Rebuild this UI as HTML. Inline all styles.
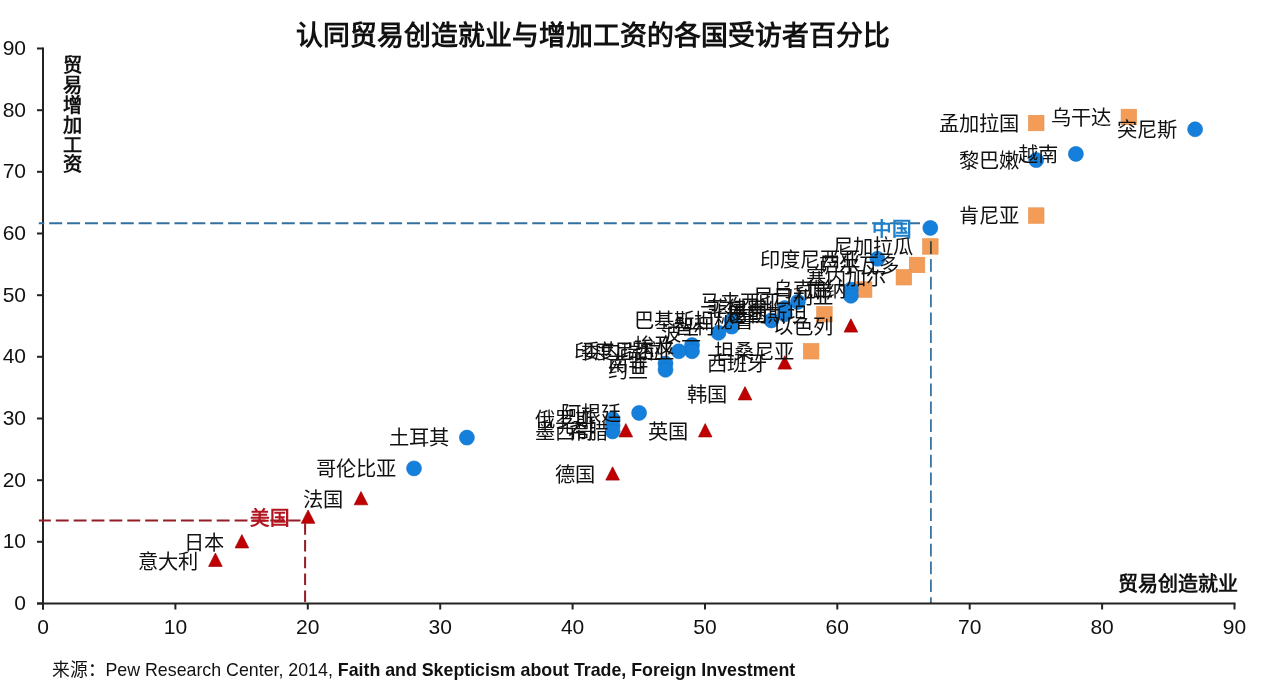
<!DOCTYPE html><html lang="zh-CN"><head><meta charset="utf-8"><style>
html,body{margin:0;padding:0;background:#fff;width:1267px;height:692px;overflow:hidden}
svg{display:block;font-family:"Liberation Sans",sans-serif;will-change:transform}
.l{font-size:20.3px;fill:#111}
.t{font-size:21px;fill:#111}
</style></head><body>
<svg width="1267" height="692" viewBox="0 0 1267 692">
<rect width="1267" height="692" fill="#fff"/>
<text x="592.6" y="45" text-anchor="middle" style="font-size:26.9px;font-weight:bold" fill="#111">认同贸易创造就业与增加工资的各国受访者百分比</text>
<g stroke="#222" stroke-width="2" fill="none">
<line x1="43.0" y1="47.49700000000007" x2="43.0" y2="609.5"/>
<line x1="37.0" y1="603.5" x2="1235.51" y2="603.5"/>
<line x1="37.0" y1="603.5" x2="43.0" y2="603.5"/>
<line x1="43.0" y1="603.5" x2="43.0" y2="609.5"/>
<line x1="37.0" y1="541.8" x2="43.0" y2="541.8"/>
<line x1="175.4" y1="603.5" x2="175.4" y2="609.5"/>
<line x1="37.0" y1="480.2" x2="43.0" y2="480.2"/>
<line x1="307.8" y1="603.5" x2="307.8" y2="609.5"/>
<line x1="37.0" y1="418.5" x2="43.0" y2="418.5"/>
<line x1="440.2" y1="603.5" x2="440.2" y2="609.5"/>
<line x1="37.0" y1="356.8" x2="43.0" y2="356.8"/>
<line x1="572.6" y1="603.5" x2="572.6" y2="609.5"/>
<line x1="37.0" y1="295.2" x2="43.0" y2="295.2"/>
<line x1="705.0" y1="603.5" x2="705.0" y2="609.5"/>
<line x1="37.0" y1="233.5" x2="43.0" y2="233.5"/>
<line x1="837.3" y1="603.5" x2="837.3" y2="609.5"/>
<line x1="37.0" y1="171.8" x2="43.0" y2="171.8"/>
<line x1="969.7" y1="603.5" x2="969.7" y2="609.5"/>
<line x1="37.0" y1="110.2" x2="43.0" y2="110.2"/>
<line x1="1102.1" y1="603.5" x2="1102.1" y2="609.5"/>
<line x1="37.0" y1="48.5" x2="43.0" y2="48.5"/>
<line x1="1234.5" y1="603.5" x2="1234.5" y2="609.5"/>
</g>
<text class="t" x="26" y="609.8" text-anchor="end">0</text>
<text class="t" x="43.0" y="634" text-anchor="middle">0</text>
<text class="t" x="26" y="548.1" text-anchor="end">10</text>
<text class="t" x="175.4" y="634" text-anchor="middle">10</text>
<text class="t" x="26" y="486.5" text-anchor="end">20</text>
<text class="t" x="307.8" y="634" text-anchor="middle">20</text>
<text class="t" x="26" y="424.8" text-anchor="end">30</text>
<text class="t" x="440.2" y="634" text-anchor="middle">30</text>
<text class="t" x="26" y="363.1" text-anchor="end">40</text>
<text class="t" x="572.6" y="634" text-anchor="middle">40</text>
<text class="t" x="26" y="301.5" text-anchor="end">50</text>
<text class="t" x="705.0" y="634" text-anchor="middle">50</text>
<text class="t" x="26" y="239.8" text-anchor="end">60</text>
<text class="t" x="837.3" y="634" text-anchor="middle">60</text>
<text class="t" x="26" y="178.1" text-anchor="end">70</text>
<text class="t" x="969.7" y="634" text-anchor="middle">70</text>
<text class="t" x="26" y="116.5" text-anchor="end">80</text>
<text class="t" x="1102.1" y="634" text-anchor="middle">80</text>
<text class="t" x="26" y="54.8" text-anchor="end">90</text>
<text class="t" x="1234.5" y="634" text-anchor="middle">90</text>
<text x="1238" y="591" text-anchor="end" style="font-size:20px;font-weight:bold" fill="#111">贸易创造就业</text>
<text x="72.3" y="72.3" text-anchor="middle" style="font-size:19.2px;font-weight:bold" fill="#111">贸</text>
<text x="72.3" y="92.1" text-anchor="middle" style="font-size:19.2px;font-weight:bold" fill="#111">易</text>
<text x="72.3" y="111.9" text-anchor="middle" style="font-size:19.2px;font-weight:bold" fill="#111">增</text>
<text x="72.3" y="131.7" text-anchor="middle" style="font-size:19.2px;font-weight:bold" fill="#111">加</text>
<text x="72.3" y="151.5" text-anchor="middle" style="font-size:19.2px;font-weight:bold" fill="#111">工</text>
<text x="72.3" y="171.3" text-anchor="middle" style="font-size:19.2px;font-weight:bold" fill="#111">资</text>
<rect x="1028.5" y="115.3" width="15.5" height="15.5" fill="#F39C57" stroke="#E8904A" stroke-width="0.6"/>
<rect x="1121.1" y="109.2" width="15.5" height="15.5" fill="#F39C57" stroke="#E8904A" stroke-width="0.6"/>
<rect x="1028.5" y="207.8" width="15.5" height="15.5" fill="#F39C57" stroke="#E8904A" stroke-width="0.6"/>
<rect x="922.6" y="238.7" width="15.5" height="15.5" fill="#F39C57" stroke="#E8904A" stroke-width="0.6"/>
<rect x="909.3" y="257.2" width="15.5" height="15.5" fill="#F39C57" stroke="#E8904A" stroke-width="0.6"/>
<rect x="896.1" y="269.5" width="15.5" height="15.5" fill="#F39C57" stroke="#E8904A" stroke-width="0.6"/>
<rect x="856.4" y="281.8" width="15.5" height="15.5" fill="#F39C57" stroke="#E8904A" stroke-width="0.6"/>
<rect x="816.7" y="306.5" width="15.5" height="15.5" fill="#F39C57" stroke="#E8904A" stroke-width="0.6"/>
<rect x="803.4" y="343.5" width="15.5" height="15.5" fill="#F39C57" stroke="#E8904A" stroke-width="0.6"/>
<circle cx="1195.1" cy="129.3" r="7.5" fill="#1480DC" stroke="#1270C8" stroke-width="0.6"/>
<circle cx="1075.9" cy="153.9" r="7.5" fill="#1480DC" stroke="#1270C8" stroke-width="0.6"/>
<circle cx="1036.2" cy="160.1" r="7.5" fill="#1480DC" stroke="#1270C8" stroke-width="0.6"/>
<circle cx="930.3" cy="227.9" r="7.5" fill="#1480DC" stroke="#1270C8" stroke-width="0.6"/>
<circle cx="877.4" cy="258.8" r="7.5" fill="#1480DC" stroke="#1270C8" stroke-width="0.6"/>
<circle cx="850.9" cy="289.6" r="7.5" fill="#1480DC" stroke="#1270C8" stroke-width="0.6"/>
<circle cx="850.9" cy="295.8" r="7.5" fill="#1480DC" stroke="#1270C8" stroke-width="0.6"/>
<circle cx="797.9" cy="301.9" r="7.5" fill="#1480DC" stroke="#1270C8" stroke-width="0.6"/>
<circle cx="784.7" cy="308.1" r="7.5" fill="#1480DC" stroke="#1270C8" stroke-width="0.6"/>
<circle cx="784.7" cy="314.3" r="7.5" fill="#1480DC" stroke="#1270C8" stroke-width="0.6"/>
<circle cx="771.4" cy="320.4" r="7.5" fill="#1480DC" stroke="#1270C8" stroke-width="0.6"/>
<circle cx="731.7" cy="320.4" r="7.5" fill="#1480DC" stroke="#1270C8" stroke-width="0.6"/>
<circle cx="731.7" cy="326.6" r="7.5" fill="#1480DC" stroke="#1270C8" stroke-width="0.6"/>
<circle cx="718.5" cy="332.8" r="7.5" fill="#1480DC" stroke="#1270C8" stroke-width="0.6"/>
<circle cx="692.0" cy="345.1" r="7.5" fill="#1480DC" stroke="#1270C8" stroke-width="0.6"/>
<circle cx="692.0" cy="351.3" r="7.5" fill="#1480DC" stroke="#1270C8" stroke-width="0.6"/>
<circle cx="678.8" cy="351.3" r="7.5" fill="#1480DC" stroke="#1270C8" stroke-width="0.6"/>
<circle cx="665.5" cy="363.6" r="7.5" fill="#1480DC" stroke="#1270C8" stroke-width="0.6"/>
<circle cx="665.5" cy="369.8" r="7.5" fill="#1480DC" stroke="#1270C8" stroke-width="0.6"/>
<circle cx="639.1" cy="412.9" r="7.5" fill="#1480DC" stroke="#1270C8" stroke-width="0.6"/>
<circle cx="612.6" cy="419.1" r="7.5" fill="#1480DC" stroke="#1270C8" stroke-width="0.6"/>
<circle cx="612.6" cy="425.3" r="7.5" fill="#1480DC" stroke="#1270C8" stroke-width="0.6"/>
<circle cx="612.6" cy="431.4" r="7.5" fill="#1480DC" stroke="#1270C8" stroke-width="0.6"/>
<circle cx="466.9" cy="437.6" r="7.5" fill="#1480DC" stroke="#1270C8" stroke-width="0.6"/>
<circle cx="414.0" cy="468.4" r="7.5" fill="#1480DC" stroke="#1270C8" stroke-width="0.6"/>
<polygon points="215.4,553.1 222.2,566.4 208.6,566.4" fill="#C00000" stroke="#A00000" stroke-width="0.7"/>
<polygon points="241.9,534.6 248.7,547.9 235.1,547.9" fill="#C00000" stroke="#A00000" stroke-width="0.7"/>
<polygon points="308.1,510.0 314.9,523.3 301.3,523.3" fill="#C00000" stroke="#A00000" stroke-width="0.7"/>
<polygon points="361.0,491.5 367.8,504.8 354.2,504.8" fill="#C00000" stroke="#A00000" stroke-width="0.7"/>
<polygon points="612.6,466.8 619.4,480.1 605.8,480.1" fill="#C00000" stroke="#A00000" stroke-width="0.7"/>
<polygon points="625.8,423.6 632.6,436.9 619.0,436.9" fill="#C00000" stroke="#A00000" stroke-width="0.7"/>
<polygon points="705.2,423.6 712.0,436.9 698.5,436.9" fill="#C00000" stroke="#A00000" stroke-width="0.7"/>
<polygon points="745.0,386.6 751.8,399.9 738.2,399.9" fill="#C00000" stroke="#A00000" stroke-width="0.7"/>
<polygon points="784.7,355.8 791.5,369.1 777.9,369.1" fill="#C00000" stroke="#A00000" stroke-width="0.7"/>
<polygon points="850.9,318.8 857.7,332.1 844.1,332.1" fill="#C00000" stroke="#A00000" stroke-width="0.7"/>
<text class="l" x="197.7" y="568.7" text-anchor="end" >意大利</text>
<text class="l" x="224.2" y="550.2" text-anchor="end" >日本</text>
<text class="l" x="343.3" y="507.1" text-anchor="end" >法国</text>
<text class="l" x="594.9" y="482.4" text-anchor="end" >德国</text>
<text class="l" x="608.1" y="439.2" text-anchor="end" >希腊</text>
<text class="l" x="687.6" y="439.2" text-anchor="end" >英国</text>
<text class="l" x="727.3" y="402.2" text-anchor="end" >韩国</text>
<text class="l" x="767.0" y="371.4" text-anchor="end" >西班牙</text>
<text class="l" x="833.2" y="334.4" text-anchor="end" >以色列</text>
<text class="l" x="1018.5" y="130.9" text-anchor="end" >孟加拉国</text>
<text class="l" x="1111.2" y="124.7" text-anchor="end" >乌干达</text>
<text class="l" x="1018.5" y="223.4" text-anchor="end" >肯尼亚</text>
<text class="l" x="912.6" y="254.2" text-anchor="end" >尼加拉瓜</text>
<text class="l" x="899.4" y="272.7" text-anchor="end" >萨尔瓦多</text>
<text class="l" x="886.1" y="285.1" text-anchor="end" >塞内加尔</text>
<text class="l" x="846.4" y="297.4" text-anchor="end" >加纳</text>
<text class="l" x="806.7" y="322.1" text-anchor="end" >巴勒斯坦</text>
<text class="l" x="793.5" y="359.1" text-anchor="end" >坦桑尼亚</text>
<text class="l" x="1177.4" y="137.1" text-anchor="end" >突尼斯</text>
<text class="l" x="1058.2" y="161.7" text-anchor="end" >越南</text>
<text class="l" x="1018.5" y="167.9" text-anchor="end" >黎巴嫩</text>
<text class="l" x="859.7" y="266.6" text-anchor="end" >印度尼西亚</text>
<text class="l" x="833.2" y="297.4" text-anchor="end" >乌克兰</text>
<text class="l" x="833.2" y="303.6" text-anchor="end" >尼日利亚</text>
<text class="l" x="780.2" y="309.7" text-anchor="end" >马来西亚</text>
<text class="l" x="767.0" y="315.9" text-anchor="end" >菲律宾</text>
<text class="l" x="767.0" y="322.1" text-anchor="end" >泰国</text>
<text class="l" x="753.7" y="328.2" text-anchor="end" >秘鲁</text>
<text class="l" x="714.0" y="328.2" text-anchor="end" >巴基斯坦</text>
<text class="l" x="714.0" y="334.4" text-anchor="end" >智利</text>
<text class="l" x="700.8" y="340.6" text-anchor="end" >波兰</text>
<text class="l" x="674.3" y="352.9" text-anchor="end" >埃及</text>
<text class="l" x="674.3" y="359.1" text-anchor="end" >印度尼西亚</text>
<text class="l" x="661.1" y="359.1" text-anchor="end" >委内瑞拉</text>
<text class="l" x="647.8" y="371.4" text-anchor="end" >南非</text>
<text class="l" x="647.8" y="377.6" text-anchor="end" >约旦</text>
<text class="l" x="621.4" y="420.7" text-anchor="end" >阿根廷</text>
<text class="l" x="594.9" y="426.9" text-anchor="end" >俄罗斯</text>
<text class="l" x="594.9" y="439.2" text-anchor="end" >墨西哥</text>
<text class="l" x="449.2" y="445.4" text-anchor="end" >土耳其</text>
<text class="l" x="396.3" y="476.2" text-anchor="end" >哥伦比亚</text>
<g fill="none" stroke-width="2">
<line x1="38.9" y1="520.6" x2="300.5" y2="520.6" stroke="#931C26" stroke-dasharray="12.9 4.98" stroke-dashoffset="1"/>
<line x1="305.1" y1="523.2" x2="305.1" y2="603" stroke="#931C26" stroke-dasharray="11.5 5.3"/>
<line x1="38.8" y1="223.2" x2="920" y2="223.2" stroke="#33709F" stroke-dasharray="13 4.89" stroke-dashoffset="7.49"/>
<line x1="930.9" y1="241.2" x2="930.9" y2="603" stroke="#3A74A3" stroke-width="1.8" stroke-dasharray="12.7 5.1" style="mix-blend-mode:multiply"/>
</g>
<text x="290" y="525" text-anchor="end" style="font-size:19.6px;font-weight:bold" fill="#B3141F">美国</text>
<text x="912" y="235.5" text-anchor="end" style="font-size:19.6px;font-weight:bold" fill="#1E7FCB">中国</text>
<text x="51.5" y="676" style="font-size:17.8px" fill="#111">来源：<tspan>Pew Research Center, 2014, </tspan><tspan style="font-weight:bold">Faith and Skepticism about Trade, Foreign Investment</tspan></text>
</svg></body></html>
